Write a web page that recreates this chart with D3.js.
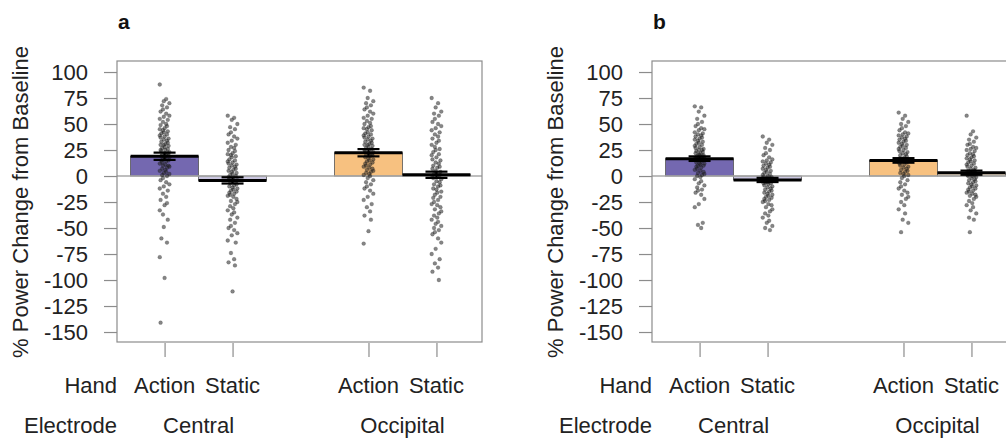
<!DOCTYPE html>
<html>
<head>
<meta charset="utf-8">
<script src="https://cdnjs.cloudflare.com/ajax/libs/d3/7.8.5/d3.min.js"></script>
<style>
  body { margin: 0; background: #fff; }
  svg { display: block; font-family: "Liberation Sans", Arial, sans-serif; }
</style>
</head>
<body>
<div id="chart"></div>
<script>
// categories
var hands = ["Action", "Static"];
var electrodes = ["Central", "Occipital"];
var yTicks = [100, 75, 50, 25, 0, -25, -50, -75, -100, -125, -150];
var panels = ["a", "b"];

// bar heights (means) and standard errors, order: Central Action, Central Static, Occipital Action, Occipital Static
var aMeans = [19, -4.2, 22.4, 1.2];
var aSE = [3.5, 3, 3.5, 3];
var bMeans = [16.7, -3.8, 15, 3.2];
var bSE = [2.2, 2, 2.2, 2];

// individual subjects, panel a
var aCentralAction = [88, 74, 72, 70, 68, 66, 64, 62, 60, 58, 57, 55, 54, 52, 50, 49, 48, 46, 45, 44, 43, 42, 41, 40, 39, 38, 37, 36, 35, 34, 33, 32, 31, 30, 30, 29, 28, 27, 26, 25, 25, 24, 23, 22, 22, 21, 20, 20, 19, 18, 18, 17, 16, 15, 15, 14, 13, 12, 11, 10, 10, 9, 8, 7, 6, 5, 4, 3, 2, 1, 0, -2, -4, -6, -8, -10, -12, -14, -17, -20, -23, -26, -28, -33, -37, -42, -49, -60, -64, -78, -98, -141];
var aCentralStatic = [58, 56, 54, 50, 47, 45, 42, 40, 38, 36, 34, 32, 30, 28, 27, 25, 24, 22, 21, 20, 19, 18, 16, 15, 14, 13, 12, 11, 10, 9, 8, 7, 6, 5, 4, 3, 2, 1, 0, -1, -2, -3, -4, -5, -6, -7, -8, -9, -10, -11, -12, -13, -14, -15, -16, -17, -18, -19, -20, -22, -24, -25, -27, -29, -31, -33, -35, -37, -40, -42, -45, -48, -50, -52, -55, -57, -62, -64, -74, -80, -83, -86, -111];
var aOccipitalAction = [85, 82, 75, 72, 70, 68, 66, 64, 62, 60, 58, 56, 55, 53, 51, 50, 48, 47, 46, 45, 44, 42, 41, 40, 39, 38, 37, 36, 35, 34, 33, 32, 31, 30, 30, 29, 28, 27, 26, 25, 25, 24, 23, 22, 21, 20, 20, 19, 18, 17, 16, 15, 14, 13, 12, 11, 10, 9, 8, 7, 6, 5, 4, 3, 2, 1, 0, -2, -4, -6, -8, -10, -12, -14, -17, -20, -23, -27, -30, -34, -38, -42, -53, -65];
var aOccipitalStatic = [75, 70, 66, 62, 60, 58, 55, 52, 50, 48, 46, 44, 42, 40, 38, 36, 34, 32, 30, 28, 26, 25, 23, 21, 20, 18, 16, 15, 13, 12, 10, 9, 8, 7, 5, 4, 3, 2, 1, 0, -1, -2, -3, -5, -6, -8, -9, -10, -12, -13, -15, -16, -18, -20, -21, -23, -25, -27, -28, -30, -32, -34, -36, -38, -40, -42, -44, -46, -48, -50, -52, -54, -56, -60, -64, -70, -75, -80, -84, -88, -92, -100];

// individual subjects, panel b
var bCentralAction = [67, 66, 62, 58, 55, 52, 50, 48, 46, 45, 44, 42, 41, 40, 39, 38, 37, 36, 35, 34, 33, 32, 31, 30, 29, 28, 27, 26, 25, 25, 24, 23, 22, 22, 21, 20, 20, 19, 19, 18, 18, 17, 17, 16, 16, 15, 15, 14, 13, 12, 12, 11, 10, 10, 9, 8, 7, 6, 5, 4, 3, 2, 1, 0, -1, -3, -5, -7, -9, -11, -13, -14, -16, -18, -22, -27, -30, -45, -47, -50];
var bCentralStatic = [38, 35, 32, 30, 27, 25, 22, 20, 18, 16, 15, 14, 13, 12, 11, 10, 9, 8, 7, 6, 5, 4, 3, 2, 1, 0, -1, -1, -2, -2, -3, -3, -4, -4, -5, -5, -6, -6, -7, -7, -8, -9, -10, -11, -12, -13, -14, -15, -16, -17, -18, -19, -20, -21, -22, -23, -24, -25, -27, -28, -30, -32, -34, -36, -38, -40, -43, -45, -48, -50, -52];
var bOccipitalAction = [61, 58, 55, 52, 50, 48, 46, 44, 42, 41, 40, 39, 38, 37, 36, 35, 34, 33, 32, 31, 30, 29, 28, 27, 26, 25, 24, 23, 22, 21, 20, 19, 18, 17, 16, 15, 15, 14, 13, 12, 11, 10, 9, 8, 7, 6, 5, 4, 3, 2, 1, 0, -2, -4, -6, -8, -10, -12, -14, -16, -18, -20, -22, -25, -28, -32, -36, -42, -45, -54];
var bOccipitalStatic = [58, 43, 40, 37, 35, 33, 31, 30, 28, 27, 26, 25, 24, 22, 21, 20, 19, 18, 17, 16, 15, 14, 13, 12, 11, 10, 9, 8, 7, 6, 5, 5, 4, 4, 3, 3, 2, 2, 1, 1, 0, 0, -1, -2, -3, -4, -5, -6, -7, -8, -9, -10, -11, -12, -13, -14, -15, -16, -17, -18, -19, -20, -22, -24, -26, -28, -30, -33, -36, -40, -42, -54];

var barFill = ["#7468b0", "#cbc7e1", "#f7c180", "#eadac4"];

var W = 1006, H = 439;
var panelShift = 535;

var svg = d3.select("#chart").append("svg")
  .attr("width", W)
  .attr("height", H);

// bar slot units: group 0 -> slots 0,1 ; group 1 -> slots 3,4
var x = d3.scaleLinear().domain([-0.2, 5.17]).range([117, 482]);
var y = d3.scaleLinear().domain([-159.6, 110.6]).range([342, 61]);

function slot(k) { return (k < 2 ? k : k + 1); }
// fixed horizontal spread of the points (not data)
function jitter(i) { return ((((i * 7) + ((i * i) % 5)) % 13) - 6) * 0.8; }

function drawPanel(idx, means, ses, groups) {
  var g = svg.append("g").attr("transform", "translate(" + (idx * panelShift) + ",0)");

  // panel letter
  g.append("text")
    .attr("x", 118).attr("y", 29)
    .attr("font-size", "21px").attr("font-weight", "bold")
    .attr("fill", "#111")
    .text(panels[idx]);

  // y label
  g.append("text")
    .attr("transform", "translate(28,202) rotate(-90)")
    .attr("text-anchor", "middle")
    .attr("font-size", "22px")
    .attr("fill", "#222")
    .text("% Power Change from Baseline");

  // bars
  g.selectAll("rect.bar")
    .data(means)
    .enter().append("rect")
    .attr("class", "bar")
    .attr("x", function(d, k) { return x(slot(k)); })
    .attr("width", function(d, k) { return x(slot(k) + 1) - x(slot(k)); })
    .attr("y", function(d) { return y(Math.max(0, d)); })
    .attr("height", function(d) { return Math.abs(y(d) - y(0)); })
    .attr("fill", function(d, k) { return barFill[k]; })
    .attr("stroke", "#555")
    .attr("stroke-width", 0.8);

  // zero line
  g.append("line")
    .attr("x1", x.range()[0]).attr("x2", x.range()[1])
    .attr("y1", y(0)).attr("y2", y(0))
    .attr("stroke", "#a8a8a8").attr("stroke-width", 1.5);

  // subject points
  groups.forEach(function(vals, k) {
    var cx = x(slot(k) + 0.5);
    g.append("g").selectAll("circle")
      .data(vals)
      .enter().append("circle")
      .attr("cx", function(d, i) { return cx + jitter(i); })
      .attr("cy", function(d) { return y(d); })
      .attr("r", 1.9)
      .attr("fill", "#222")
      .attr("fill-opacity", 0.55)
      .attr("stroke", "#111")
      .attr("stroke-opacity", 0.35)
      .attr("stroke-width", 0.5);
  });

  // mean lines on top of bars
  g.selectAll("line.mean")
    .data(means)
    .enter().append("line")
    .attr("class", "mean")
    .attr("x1", function(d, k) { return x(slot(k)); })
    .attr("x2", function(d, k) { return x(slot(k) + 1); })
    .attr("y1", function(d) { return y(d); })
    .attr("y2", function(d) { return y(d); })
    .attr("stroke", "#000").attr("stroke-width", 3);

  // error bars
  means.forEach(function(m, k) {
    var cx = x(slot(k) + 0.5);
    var e = ses[k];
    g.append("line")
      .attr("x1", cx).attr("x2", cx)
      .attr("y1", y(m + e)).attr("y2", y(m - e))
      .attr("stroke", "#000").attr("stroke-width", 2);
    [m + e, m - e].forEach(function(v) {
      g.append("line")
        .attr("x1", cx - 11).attr("x2", cx + 11)
        .attr("y1", y(v)).attr("y2", y(v))
        .attr("stroke", "#000").attr("stroke-width", 2.2);
    });
  });

  // frame
  g.append("rect")
    .attr("x", x.range()[0]).attr("y", y.range()[1])
    .attr("width", x.range()[1] - x.range()[0])
    .attr("height", y.range()[0] - y.range()[1])
    .attr("fill", "none")
    .attr("stroke", "#8c8c8c").attr("stroke-width", 1.2);

  // y axis
  var yAxis = g.append("g")
    .attr("transform", "translate(" + x.range()[0] + ",0)")
    .call(d3.axisLeft(y).tickValues(yTicks).tickSize(13).tickPadding(16)
      .tickFormat(function(d) { return String(d); }));
  yAxis.select(".domain").remove();
  yAxis.selectAll(".tick line").attr("stroke", "#8c8c8c").attr("stroke-width", 1.2);
  yAxis.selectAll(".tick text")
    .attr("font-size", "22px")
    .attr("font-family", "Liberation Sans, Arial, sans-serif")
    .attr("fill", "#222");

  // x axis ticks
  var xAxis = g.append("g")
    .attr("transform", "translate(0,343)")
    .call(d3.axisBottom(x).tickValues([0.5, 1.5, 3.5, 4.5]).tickSize(14).tickFormat(""));
  xAxis.select(".domain").remove();
  xAxis.selectAll(".tick line").attr("stroke", "#8c8c8c").attr("stroke-width", 1.2);

  // hand labels
  g.append("text")
    .attr("x", x.range()[0]).attr("y", 393)
    .attr("text-anchor", "end").attr("font-size", "22px").attr("fill", "#222")
    .text("Hand");
  [0.5, 1.5, 3.5, 4.5].forEach(function(t, k) {
    g.append("text")
      .attr("x", x(t)).attr("y", 393)
      .attr("text-anchor", "middle").attr("font-size", "22px").attr("fill", "#222")
      .text(hands[k % 2]);
  });

  // electrode labels
  g.append("text")
    .attr("x", x.range()[0]).attr("y", 433)
    .attr("text-anchor", "end").attr("font-size", "22px").attr("fill", "#222")
    .text("Electrode");
  [1, 4].forEach(function(t, k) {
    g.append("text")
      .attr("x", x(t)).attr("y", 433)
      .attr("text-anchor", "middle").attr("font-size", "22px").attr("fill", "#222")
      .text(electrodes[k]);
  });
}

drawPanel(0, aMeans, aSE, [aCentralAction, aCentralStatic, aOccipitalAction, aOccipitalStatic]);
drawPanel(1, bMeans, bSE, [bCentralAction, bCentralStatic, bOccipitalAction, bOccipitalStatic]);
</script>
</body>
</html>
